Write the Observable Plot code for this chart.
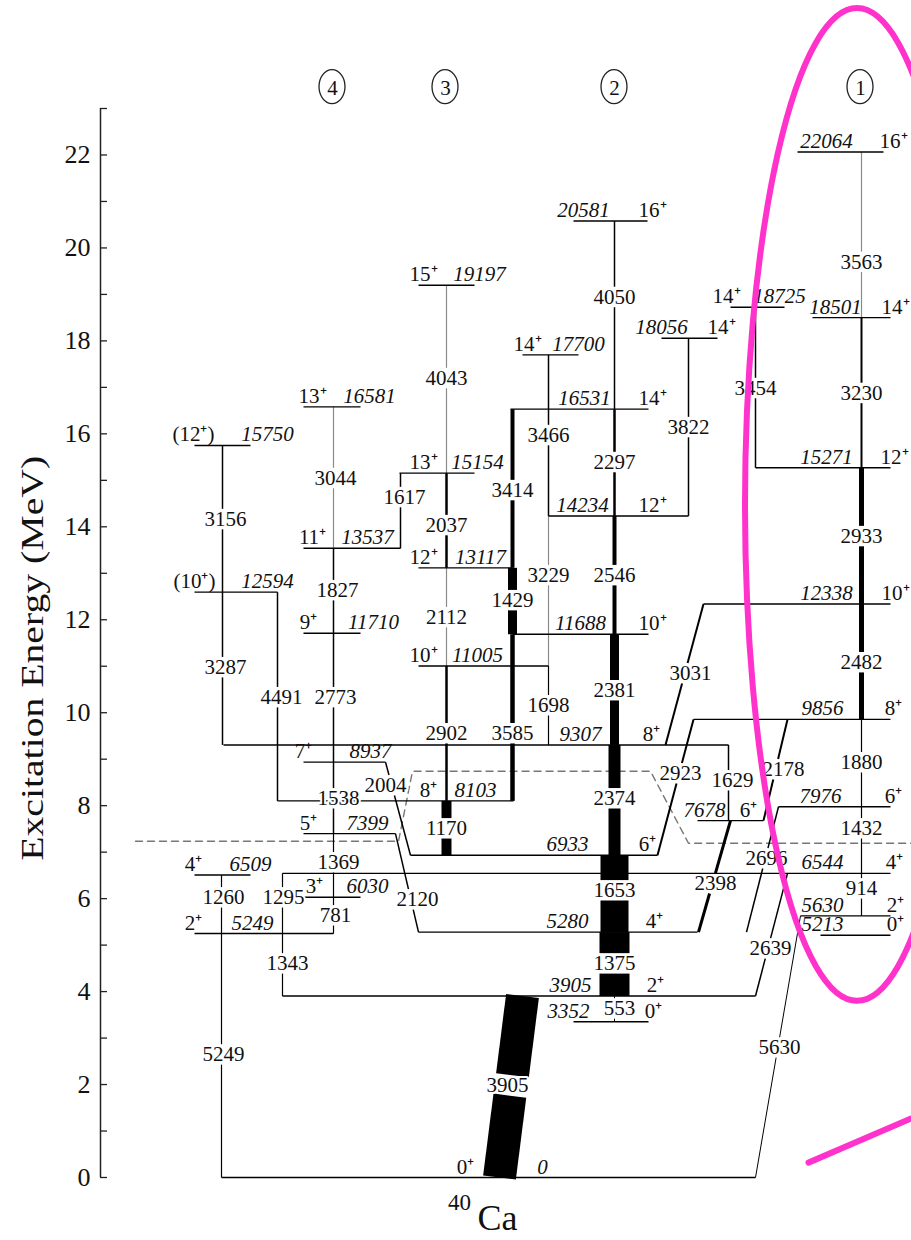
<!DOCTYPE html>
<html><head><meta charset="utf-8">
<script src="https://cdn.jsdelivr.net/npm/d3@7"></script>
<script src="https://cdn.jsdelivr.net/npm/@observablehq/plot@0.6"></script>
<style>body{margin:0;background:#fff;} svg{display:block}</style>
</head><body><div id="chart"></div>
<script>
// y axis ticks (MeV)
const yMinorTicks = [0,1,2,3,4,5,6,7,8,9,10,11,12,13,14,15,16,17,18,19,20,21,22,23];
const yTickLabels = [0,2,4,6,8,10,12,14,16,18,20,22];

// levels: [energy keV, x1, x2, spin, spin label x, energy label x]
const levels = [
  [22064, 797, 883, "16⁺", 893, 826],
  [20581, 573, 647, "16⁺", 652, 583],
  [19197, 418, 474, "15⁺", 423, 479],
  [18725, 730, 784, "14⁺", 726, 779],
  [18501, 812, 890, "14⁺", 895, 835],
  [18056, 661, 717, "14⁺", 721, 661],
  [17700, 522, 578, "14⁺", 527, 578],
  [16581, 303, 360, "13⁺", 312, 369],
  [16531, 510, 648, "14⁺", 652, 584],
  [15750, 194, 250, "(12⁺)", 193, 267],
  [15271, 755, 890, "12⁺", 894, 826],
  [15154, 399, 474, "13⁺", 423, 477],
  [14234, 548, 688, "12⁺", 652, 582],
  [13537, 303, 400, "11⁺", 312, 367],
  [13117, 418, 512, "12⁺", 423, 480],
  [12594, 194, 277, "(10⁺)", 194, 267],
  [12338, 703, 890, "10⁺", 895, 826],
  [11710, 303, 360, "9⁺", 308, 373],
  [11688, 512, 648, "10⁺", 652, 580],
  [11005, 418, 548, "10⁺", 423, 477],
  [9856, 693, 890, "8⁺", 893, 822],
  [9307, 223, 728, "8⁺", 651, 580],
  [8937, 303, 385, "7⁺", 303, 370],
  [8103, 277, 513, "8⁺", 428, 475],
  [7976, 778, 890, "6⁺", 893, 820],
  [7678, 697, 763, "6⁺", 748, 704],
  [7399, 303, 395, "5⁺", 308, 367],
  [6933, 410, 657, "6⁺", 647, 567],
  [6544, 282, 890, "4⁺", 894, 822],
  [6509, 194, 250, "4⁺", 193, 250],
  [6030, 303, 360, "3⁺", 314, 367],
  [5630, 800, 890, "2⁺", 895, 822],
  [5280, 418, 697, "4⁺", 654, 567],
  [5249, 194, 333, "2⁺", 193, 252],
  [5213, 820, 890, "0⁺", 895, 822],
  [3905, 282, 755, "2⁺", 655, 570],
  [3352, 573, 648, "0⁺", 653, 568],
  [0, 221, 755, "0⁺", 465, 542]
];

// transitions: [label, E initial, E final, x top, x bottom, width, gray, label x, label E]
const transitions = [
  ["3563", 22064, 18501, 861, 861, 1.2, 1, 861, 19700],
  ["3230", 18501, 15271, 861, 861, 2, 0, 861, 16880],
  ["2933", 15271, 12338, 861, 861, 5, 0, 861, 13800],
  ["2482", 12338, 9856, 861, 861, 5, 0, 861, 11087],
  ["1880", 9856, 7976, 861, 861, 1.2, 0, 861, 8934],
  ["1432", 7976, 6544, 861, 861, 1.2, 0, 861, 7513],
  ["914", 6544, 5630, 861, 861, 1.2, 0, 861, 6222],
  ["3454", 18725, 15271, 755, 755, 1.5, 0, 755, 16986],
  ["3822", 18056, 14234, 688, 688, 1.5, 0, 688, 16146],
  ["4050", 20581, 16531, 614, 614, 1.5, 0, 614, 18945],
  ["2297", 16531, 14234, 614, 614, 2.5, 0, 614, 15393],
  ["2546", 14234, 11688, 614, 614, 4, 0, 614, 12960],
  ["2381", 11688, 9307, 614, 614, 9, 0, 614, 10484],
  ["2374", 9307, 6933, 614, 614, 12, 0, 614, 8159],
  ["1653", 6933, 5280, 614, 614, 28, 0, 614, 6179],
  ["1375", 5280, 3905, 614, 614, 30, 0, 614, 4607],
  ["553", 3905, 3352, 614, 614, 1, 0, 619, 3638],
  ["3905", 3905, 0, 522, 499, 33, 0, 507, 1980],
  ["3466", 17700, 14234, 548, 548, 1.5, 0, 548, 15974],
  ["3229", 14234, 11005, 548, 548, 1.2, 1, 548, 12960],
  ["1698", 11005, 9307, 548, 548, 1.2, 0, 548, 10161],
  ["3414", 16531, 13117, 512, 512, 4, 0, 512, 14790],
  ["1429", 13117, 11688, 512, 512, 9, 0, 512, 12422],
  ["3585", 11688, 8103, 512, 512, 4.5, 0, 512, 9559],
  ["4043", 19197, 15154, 446, 446, 1.2, 1, 446, 17201],
  ["2037", 15154, 13117, 446, 446, 2.5, 0, 446, 14037],
  ["2112", 13117, 11005, 446, 446, 1.2, 1, 446, 12056],
  ["2902", 11005, 8103, 446, 446, 2.5, 0, 446, 9559],
  ["1170", 8103, 6933, 446, 446, 10, 0, 446, 7513],
  ["1617", 15154, 13537, 400, 400, 1.5, 0, 404, 14640],
  ["3044", 16581, 13537, 333, 333, 1.2, 1, 335, 15049],
  ["1827", 13537, 11710, 333, 333, 1.5, 0, 337, 12637],
  ["2773", 11710, 8937, 333, 333, 1.5, 0, 335, 10334],
  ["1538", 8937, 7399, 333, 333, 1.5, 0, 338, 8159],
  ["1369", 7399, 6030, 333, 333, 1.2, 0, 338, 6782],
  ["781", 6030, 5249, 333, 333, 1.2, 0, 335, 5641],
  ["3156", 15750, 12594, 222, 222, 1.5, 0, 225, 14166],
  ["3287", 12594, 9307, 222, 222, 1.5, 0, 225, 10980],
  ["4491", 12594, 8103, 277, 277, 1.5, 0, 281, 10334],
  ["1260", 6509, 5249, 221, 221, 1.2, 0, 223, 6028],
  ["5249", 5249, 0, 221, 221, 1.2, 0, 223, 2648],
  ["1295", 6544, 5249, 282, 282, 1.2, 0, 283, 6028],
  ["1343", 5249, 3905, 282, 282, 1.2, 0, 287, 4607],
  ["2004", 8937, 6933, 385, 410, 1.5, 0, 385, 8439],
  ["2120", 7399, 5280, 395, 418, 1.5, 0, 417, 5985],
  ["3031", 12338, 9307, 703, 665, 2, 0, 690, 10850],
  ["2923", 9856, 6933, 693, 657, 2, 0, 680, 8697],
  ["1629", 9307, 7678, 728, 728, 1.5, 0, 732, 8547],
  ["2178", 9856, 7678, 787, 763, 2, 0, 783, 8783],
  ["2398", 7678, 5280, 730, 698, 3, 0, 715, 6330],
  ["2696", 7976, 5280, 778, 746, 1.5, 0, 766, 6868],
  ["2639", 6544, 3905, 787, 755, 1.5, 0, 770, 4930],
  ["5630", 5630, 0, 800, 755, 1, 0, 779, 2799]
];

// dashed separator: [x, energy keV]
const dashedPath = [[135, 7234], [398, 7234], [412, 8741], [650, 8741], [688, 7191], [911, 7191]];

// circled band numbers: [label, x]
const bands = [["4", 332], ["3", 445], ["2", 614], ["1", 860]];
const bandE = 23.44;

// highlight annotation: ellipse center x, center MeV, half width (x units), half height (MeV)
const highlight = {cx: 857, cy: 14.47, rx: 112, ry: 10.68};
const highlightSlash = [[808, 0.32], [930, 1.45]];

const nucleus = {mass: "40", symbol: "Ca"};

// ---------- derived ----------
const gapMeV = 0.22;
const segs = [];
for (const [lab, ei, ef, xt, xb, w, gray, lx, le] of transitions) {
  const yt = ei / 1000, yb = ef / 1000, yl = le / 1000;
  const xAt = y => xt + (xb - xt) * (yt - y) / (yt - yb);
  const hi = yl + gapMeV, lo = yl - gapMeV;
  if (hi < yt) segs.push({x1: xAt(yt), y1: yt, x2: xAt(Math.max(hi, yb)), y2: Math.max(hi, yb), w, gray});
  if (lo > yb) segs.push({x1: xAt(Math.min(lo, yt)), y1: Math.min(lo, yt), x2: xAt(yb), y2: yb, w, gray});
}
const levelRows = levels.map(([e, x1, x2, spin, sx, ex]) => ({e: e / 1000, x1, x2, spin, sx, ex, elab: String(e)}));
const transRows = transitions.map(([lab, ei, ef, xt, xb, w, gray, lx, le]) => ({lab, lx, ly: le / 1000}));

const font = "'Liberation Serif', 'Times New Roman', Times, serif";
const chart = Plot.plot({
  width: 911, height: 1240,
  marginTop: 108, marginBottom: 63, marginLeft: 100, marginRight: 0,
  x: {domain: [100, 911], axis: null},
  y: {domain: [0, 23], axis: null},
  style: {background: "white", fontFamily: font, overflow: "visible"},
  marks: [
    // axis
    Plot.ruleX([100], {y1: 0, y2: 23, stroke: "#222", strokeWidth: 1.5}),
    Plot.ruleY(yMinorTicks, {x1: 100, x2: 107, stroke: "#222", strokeWidth: 1.3}),
    Plot.text(yTickLabels, {x: 100, y: d => d, text: d => String(d), textAnchor: "end", dx: -10, fontSize: 26, fontFamily: font, fill: "#111"}),
    Plot.text(["Excitation Energy (MeV)"], {x: 33, y: 11.17, rotate: -90, fontSize: 31, fontFamily: font, fill: "#111"}),
    // dashed separator
    Plot.line(dashedPath, {x: d => d[0], y: d => d[1] / 1000, stroke: "#777", strokeWidth: 1.4, strokeDasharray: "7,5"}),
    // transitions
    Plot.link(segs.filter(d => d.gray), {x1: "x1", y1: "y1", x2: "x2", y2: "y2", stroke: "#8a8a8a", strokeWidth: "w", strokeLinecap: "butt"}),
    Plot.link(segs.filter(d => !d.gray), {x1: "x1", y1: "y1", x2: "x2", y2: "y2", stroke: "black", strokeWidth: "w", strokeLinecap: "butt"}),
    // levels
    Plot.link(levelRows, {x1: "x1", x2: "x2", y1: "e", y2: "e", stroke: "black", strokeWidth: 1.4, strokeLinecap: "butt"}),
    Plot.text(levelRows, {x: "sx", y: "e", text: "spin", lineAnchor: "bottom", dy: -4, fontSize: 21, fontFamily: font, fill: "#111"}),
    Plot.text(levelRows, {x: "ex", y: "e", text: "elab", lineAnchor: "bottom", dy: -4, fontSize: 21, fontStyle: "italic", fontFamily: font, fill: "#111"}),
    // transition labels
    Plot.text(transRows, {x: "lx", y: "ly", text: "lab", fontSize: 21, fontFamily: font, fill: "#111", stroke: "white", strokeWidth: 4, paintOrder: "stroke"}),
    // band numbers
    Plot.text(bands, {x: d => d[1], y: bandE, text: d => d[0], fontSize: 21, fontFamily: font, fill: "#111"}),
    // nucleus label
    Plot.text([nucleus], {x: 459, y: -0.55, text: d => d.mass, fontSize: 23, fontFamily: font, fill: "#111"}),
    Plot.text([nucleus], {x: 497, y: -0.88, text: d => d.symbol, fontSize: 36, fontFamily: font, fill: "#111"}),
    // highlight slash
    Plot.line(highlightSlash, {x: d => d[0], y: d => d[1], stroke: "#ff33cc", strokeWidth: 6})
  ]
});

const sx = chart.scale("x"), sy = chart.scale("y");
const svg = d3.select(chart);
// circled band numbers
for (const [lab, x] of bands) {
  svg.append("ellipse").attr("cx", sx.apply(x)).attr("cy", sy.apply(bandE) - 1)
    .attr("rx", 13).attr("ry", 17).attr("fill", "none").attr("stroke", "#222").attr("stroke-width", 1.3);
}
// highlight ellipse
const cx = sx.apply(highlight.cx), cy = sy.apply(highlight.cy);
svg.append("ellipse").attr("cx", cx).attr("cy", cy)
  .attr("rx", sx.apply(highlight.cx + highlight.rx) - cx)
  .attr("ry", cy - sy.apply(highlight.cy + highlight.ry))
  .attr("fill", "none").attr("stroke", "#ff33cc").attr("stroke-width", 6);
// condensed axis title
svg.selectAll("text").filter(function() { return this.textContent === "Excitation Energy (MeV)"; })
  .attr("textLength", 405).attr("lengthAdjust", "spacingAndGlyphs");

document.getElementById("chart").appendChild(chart);
</script>
</body></html>
